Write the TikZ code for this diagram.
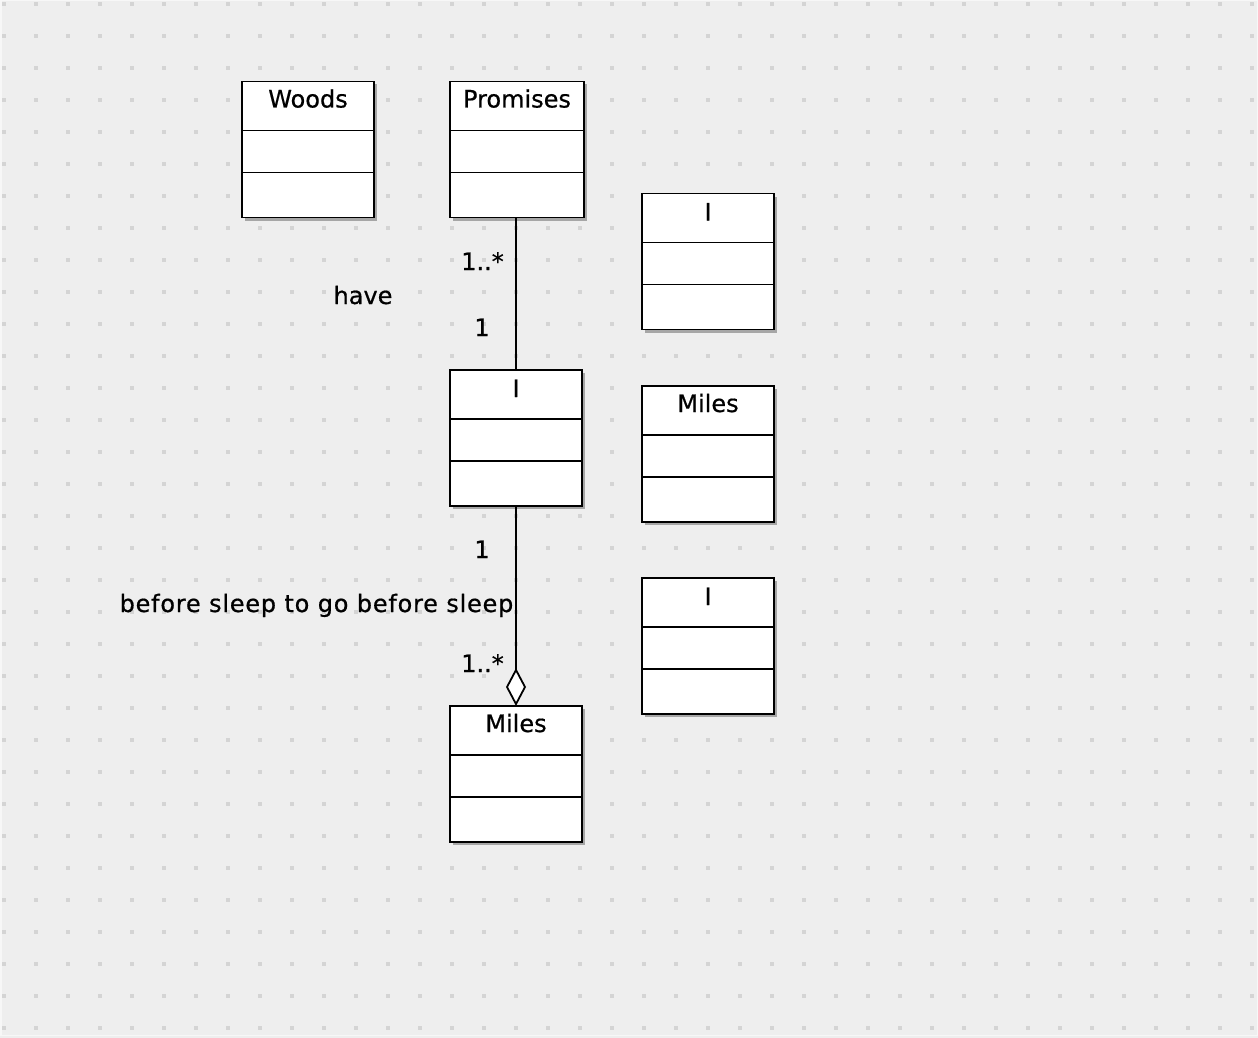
\documentclass[tikz,border=0pt]{standalone}
\usepackage{fontspec}
\setmainfont[FakeBold=0.6]{DejaVu Sans}
\newfontfamily\spacedfont[LetterSpace=3.2, FakeBold=0.6]{DejaVu Sans}
\usetikzlibrary{arrows.meta}
\usetikzlibrary{shadows}
\tikzset{umlclass/.style = {draw, line width=1.8pt, fill=white, inner sep=0pt,
                            outer sep=0pt, minimum width=132pt, minimum height=136pt,
                            general shadow={fill=black!35, shadow xshift=3pt,
                                            shadow yshift=-3pt}}}
\tikzset{classname/.style = {anchor=base, inner sep=0pt,
                             font=\fontsize{24}{28}\selectfont}}
\tikzset{assoclabel/.style = {anchor=base, inner sep=0pt,
                              font=\fontsize{24}{28}\selectfont}}
\tikzset{divider/.style = {line width=1.8pt}}
\definecolor{mbg}{RGB}{238,238,238}
\definecolor{mdot}{RGB}{212,212,212}
\definecolor{medge}{RGB}{247,247,247}

\begin{document}
\begin{tikzpicture}[x=1pt, y=-1pt]
      \useasboundingbox (0, 0) rectangle (1258, 1038);
      \fill [mbg] (0, 0) rectangle (1258, 1038);
      \draw [medge, line width=1.5pt] (0.75, 0.75) rectangle (1257.25, 1035.25);
      \foreach \i in {0,...,39}
        \foreach \j in {0,...,32}
          \fill [mdot] (2 + 32*\i, 2 + 32*\j) rectangle +(4, 4);

      \node [umlclass] (woods) at (308, 149.5) {};
      \node [umlclass, minimum width=134pt] (promises) at (517, 149.5) {};
      \node [umlclass] (imid) at (516, 438) {};
      \node [umlclass] (ione) at (708, 261.5) {};
      \node [umlclass] (milesone) at (708, 454) {};
      \node [umlclass] (itwo) at (708, 646) {};
      \node [umlclass] (milestwo) at (516, 774) {};

      \foreach \c in {woods, promises, imid, ione, milesone, itwo, milestwo} {
        \draw [divider] ([yshift=-49pt]\c.north west) -- ([yshift=-49pt]\c.north east);
        \draw [divider] ([yshift=-91pt]\c.north west) -- ([yshift=-91pt]\c.north east);
      }

      \node [classname] (woodsname) at ([yshift=-26pt]woods.north) {Woods};
      \node [classname] (promisesname) at ([yshift=-26pt]promises.north) {Promises};
      \node [classname] (imidname) at ([yshift=-27pt]imid.north) {I};
      \node [classname] (ionename) at ([yshift=-27pt]ione.north) {I};
      \node [classname] (milesonename) at ([yshift=-26pt]milesone.north) {Miles};
      \node [classname] (itwoname) at ([yshift=-27pt]itwo.north) {I};
      \node [classname] (milestwoname) at ([yshift=-26pt]milestwo.north) {Miles};

      % have
      \draw [line width=1.8pt] (imid.north |- promises.south) -- (imid.north);
      \node [assoclabel] (havemany) at (482.5, 270) {1..*};
      \node [assoclabel] (haveone) at (482, 336) {1};
      \node [assoclabel] (havename) at (363, 304) {have};

      % before sleep
      \draw [line width=1.8pt, -{Diamond[fill=white, length=38pt, width=20pt]}]
            (imid.south) -- (milestwo.north);
      \node [assoclabel] (sleepone) at (482, 558) {1};
      \node [assoclabel] (sleepmany) at (482.5, 672) {1..*};
      \node [assoclabel, font=\fontsize{24}{28}\spacedfont] (sleepname) at (316.5, 612)
            {before sleep to go before sleep};
    \end{tikzpicture}
\end{document}
